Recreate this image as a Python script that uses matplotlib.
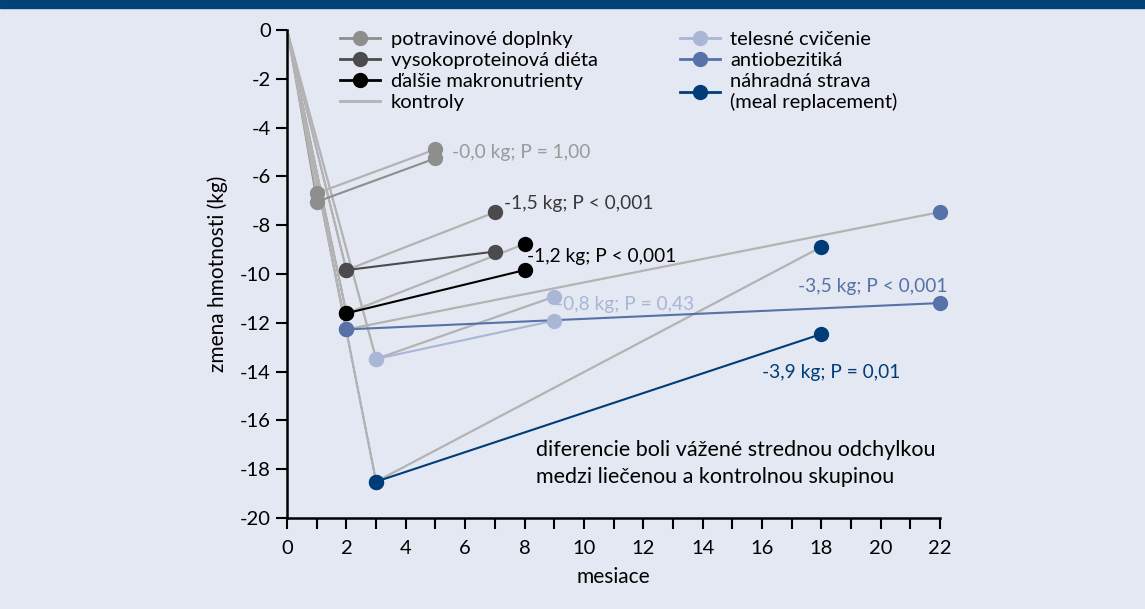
import matplotlib
matplotlib.use("Agg")
import matplotlib.pyplot as plt
from matplotlib.lines import Line2D
from matplotlib.patches import Rectangle

plt.rcParams['font.family'] = ['Lato', 'DejaVu Sans']
plt.rcParams['axes.unicode_minus'] = False

# data
groups = ["potravinové doplnky", "vysokoproteinová diéta", "ďalšie makronutrienty",
          "telesné cvičenie", "antiobezitiká", "náhradná strava\n(meal replacement)"]
colors = ["#8e8e8e", "#4b4b4d", "#000000", "#a9b6d6", "#5672a8", "#003d78"]
month_start = [1, 2, 2, 3, 2, 3]
month_end = [5, 7, 8, 9, 22, 18]
treat_start = [-7.04, -9.84, -11.61, -13.48, -12.27, -18.51]
treat_end = [-5.26, -9.08, -9.84, -11.91, -11.19, -12.46]
ctrl_start = [-6.69, -9.84, -11.61, -13.48, -12.27, -18.51]
ctrl_end = [-4.89, -7.47, -8.77, -10.93, -7.46, -8.89]
notes = ["-0,0 kg; P = 1,00", "-1,5 kg; P < 0,001", "-1,2 kg; P < 0,001",
         "-0,8 kg; P = 0,43", "-3,5 kg; P < 0,001", "-3,9 kg; P = 0,01"]
note_pos = [(5.55, -5.0), (7.3, -7.1), (8.1, -9.3), (9.05, -11.25), (17.2, -10.5), (16.0, -14.05)]
note_colors = ["#9a9a9a", "#3a3a3a", "#000000", "#a9b6d6", "#5672a8", "#003d78"]
ctrl_color = "#b3b3b3"

fig = plt.figure(figsize=(11.45, 6.09), dpi=100)
bg = "#e3e8f2"
fig.patch.set_facecolor(bg)
fig.patches.append(Rectangle((0, 1 - 8 / 609), 1, 8 / 609, transform=fig.transFigure,
                             color="#004379", zorder=0))
ax = fig.add_axes([0.2507, 0.1494, 0.5703, 0.8013])
ax.set_facecolor(bg)

# drop from baseline: treatment thin, controls drawn over it
for i in range(len(groups)):
    ax.plot([0, month_start[i]], [0, treat_start[i]], color=colors[i], lw=1.0, zorder=2)
for i in range(len(groups)):
    ax.plot([0, month_start[i], month_end[i]], [0, ctrl_start[i], ctrl_end[i]],
            color=ctrl_color, lw=1.6, zorder=2.5)
for i in range(len(groups)):
    ax.plot([month_start[i], month_end[i]], [treat_start[i], treat_end[i]],
            color=colors[i], lw=1.5, zorder=3)
for i in range(len(groups)):
    ax.plot([month_start[i], month_end[i]], [treat_start[i], treat_end[i]], 'o',
            color=colors[i], ms=10, zorder=4, clip_on=False)
    ax.plot([month_start[i], month_end[i]], [ctrl_start[i], ctrl_end[i]], 'o',
            color=colors[i], ms=10, zorder=4, clip_on=False)

for i in range(len(notes)):
    ax.text(note_pos[i][0], note_pos[i][1], notes[i], color=note_colors[i],
            fontsize=13.8, va='center', ha='left')

ax.text(8.4, -17.78, "diferencie boli vážené strednou odchylkou\nmedzi liečenou a kontrolnou skupinou",
        fontsize=15.5, va='center', ha='left', linespacing=1.45)

ax.set_xlim(0, 22)
ax.set_ylim(-20, 0)
ax.set_xticks(range(0, 23, 2))
ax.set_xticks(range(0, 23, 1), minor=True)
ax.set_yticks(range(-20, 1, 2))
ax.tick_params(axis='both', which='both', direction='out', length=8, width=1.5, labelsize=14.5)
ax.tick_params(axis='x', pad=8)
for s in ['top', 'right']:
    ax.spines[s].set_visible(False)
for s in ['left', 'bottom']:
    ax.spines[s].set_linewidth(1.8)
ax.set_xlabel("mesiace", fontsize=15, labelpad=7)
ax.set_ylabel("zmena hmotnosti (kg)", fontsize=15, labelpad=9)

handles = [Line2D([], [], color=c, marker='o', ms=10, lw=2) for c in colors[:3]]
handles.append(Line2D([], [], color=ctrl_color, lw=2))
handles += [Line2D([], [], color=c, marker='o', ms=10, lw=2) for c in colors[3:]]
labels = groups[:3] + ["kontroly"] + groups[3:]
ax.legend(handles, labels, loc='upper left', bbox_to_anchor=(0.069, 1.015), ncol=2,
          frameon=False, fontsize=14.5, labelspacing=0.2, handlelength=2.0,
          handletextpad=0.5, columnspacing=4.1, borderaxespad=0)

fig.savefig("out.png", dpi=100, facecolor=fig.get_facecolor())
